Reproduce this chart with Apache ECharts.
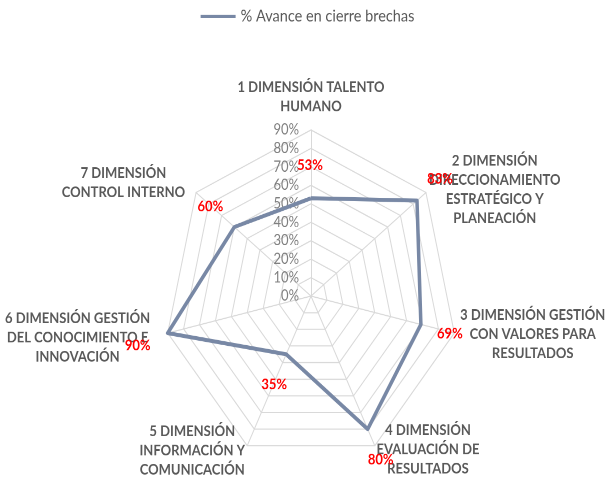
<!DOCTYPE html>
<html>
<head>
<meta charset="utf-8">
<script src="https://cdn.jsdelivr.net/npm/echarts@6/dist/echarts.min.js"></script>
<style>
  html, body { margin: 0; padding: 0; background: #fff; }
  body { width: 615px; height: 478px; }
  /* el original viene estirado en vertical, se reproduce con scaleY */
  #chart { width: 615px; height: 423px; transform: scaleY(1.13); transform-origin: 0 0; }
</style>
</head>
<body>
<div id="chart"></div>
<script>
// datos
const categories = [
  '1 DIMENSIÓN TALENTO\nHUMANO',
  '2 DIMENSIÓN\nDIRECCIONAMIENTO\nESTRATÉGICO Y\nPLANEACIÓN',
  '3 DIMENSIÓN GESTIÓN\nCON VALORES PARA\nRESULTADOS',
  '4 DIMENSIÓN\nEVALUACIÓN DE\nRESULTADOS',
  '5 DIMENSIÓN\nINFORMACIÓN Y\nCOMUNICACIÓN',
  '6 DIMENSIÓN GESTIÓN\nDEL CONOCIMIENTO E\nINNOVACIÓN',
  '7 DIMENSIÓN\nCONTROL INTERNO'
];
const avance = [53, 83, 69, 80, 35, 90, 60];
const serieName = '% Avance en cierre brechas';
const axisMax = 90;
const axisStep = 10;

// estilo por eje (orden original)
const nameGaps = [12, 4, 6, 4, 5, 18, 14];
const labelOffsets = [[-1, -29], [23, -19], [29, 8], [13, 27], [-12, 27], [-30, 11], [-24, -18]];

// echarts va en sentido antihorario, Excel en horario -> reordenar
const order = [0, 6, 5, 4, 3, 2, 1];
const ordValues = order.map(i => avance[i]);

const FONT = 'Lato';
const GRAY = '#595959';

const chart = echarts.init(document.getElementById('chart'), null, { devicePixelRatio: 2 });

const indicators = order.map((i, k) => {
  const ind = { name: categories[i], min: 0, max: axisMax, nameGap: nameGaps[i] };
  if (k === 0) {
    ind.axisLabel = { show: true, formatter: '{value}%', color: '#7F7F7F', fontSize: 13, fontFamily: FONT, margin: 12 };
  }
  return ind;
});

chart.setOption({
  animation: false,
  legend: {
    data: [serieName],
    top: 2,
    left: 'center',
    icon: 'rect',
    itemWidth: 35,
    itemHeight: 3,
    itemGap: 5,
    textStyle: { color: GRAY, fontSize: 14.5, fontFamily: FONT }
  },
  radar: {
    center: [311, 262],
    radius: 147,
    startAngle: 90,
    shape: 'polygon',
    splitNumber: axisMax / axisStep,
    indicator: indicators,
    axisName: {
      formatter: name => name.split('\n').map(l => '{c|' + l + '}').join('\n'),
      rich: {
        c: { align: 'center', color: GRAY, fontSize: 13, fontWeight: 'bold', fontFamily: FONT, lineHeight: 17 }
      }
    },
    splitLine: { lineStyle: { color: '#D9D9D9', width: 1 } },
    splitArea: { show: false },
    axisLine: { lineStyle: { color: '#D9D9D9', width: 1 } }
  },
  series: [
    {
      name: serieName,
      type: 'radar',
      symbol: 'none',
      itemStyle: { color: '#7888A5' },
      lineStyle: { color: '#7888A5', width: 3.5 },
      data: [{ value: ordValues, name: serieName }]
    },
    {
      name: 'etiquetas',
      type: 'radar',
      silent: true,
      symbol: 'circle',
      symbolSize: 1,
      itemStyle: { color: 'transparent' },
      lineStyle: { opacity: 0, width: 0 },
      label: {
        show: true,
        position: 'inside',
        color: '#FF0000',
        fontWeight: 'bold',
        fontSize: 13,
        fontFamily: FONT,
        formatter: p => (p.dimensionIndex === p.dataIndex ? ordValues[p.dimensionIndex] + '%' : '')
      },
      data: order.map((i, k) => ({ value: ordValues, label: { offset: labelOffsets[i] } }))
    }
  ]
});
</script>
</body>
</html>
